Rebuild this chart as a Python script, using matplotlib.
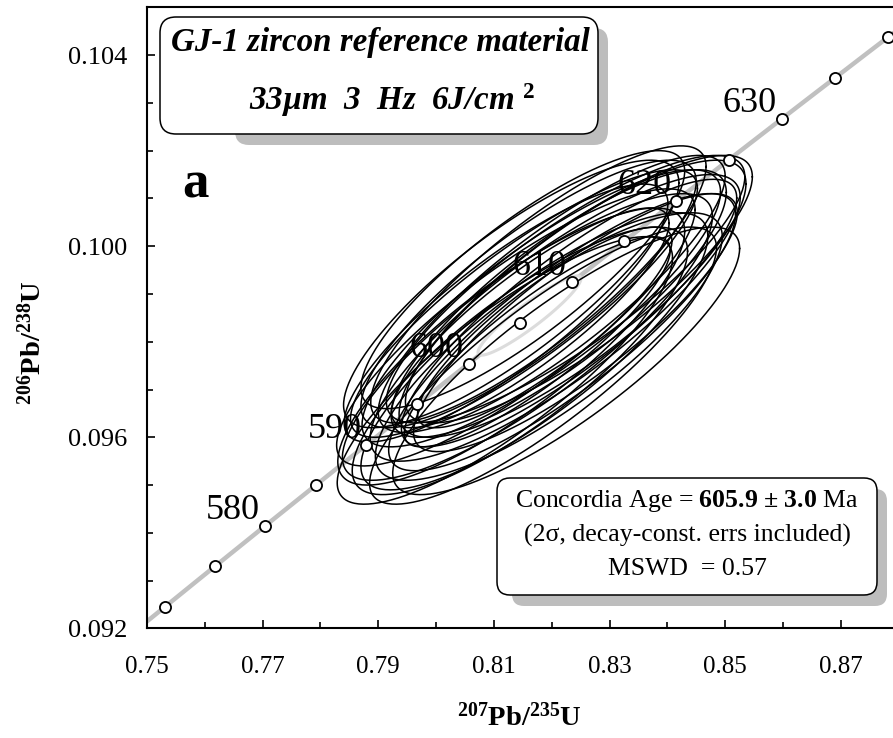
import numpy as np
import matplotlib
matplotlib.use('Agg')
import matplotlib.pyplot as plt
import matplotlib.ticker as mticker
import matplotlib.transforms as mtransforms
from matplotlib.patches import FancyBboxPatch

plt.rcParams['font.family'] = ['Liberation Serif', 'DejaVu Serif']
plt.rcParams['mathtext.fontset'] = 'custom'
plt.rcParams['mathtext.rm'] = 'Liberation Serif'
plt.rcParams['mathtext.it'] = 'Liberation Serif:italic'
plt.rcParams['mathtext.bf'] = 'Liberation Serif:bold'

# decay constants, 1/yr
L238 = 1.55125e-10
L235 = 9.8485e-10

# concordia tick marks (Ma) and the ones that get a label
tick_ages = [570, 575, 580, 585, 590, 595, 600, 605, 610, 615, 620, 625, 630, 635, 640]
label_ages = [580, 590, 600, 610, 620, 630]

# GJ-1 spot analyses: 207Pb/235U, 2s, 206Pb/238U, 2s, error correlation
pb207_u235 = [0.8119, 0.8121, 0.8130, 0.8138, 0.8145, 0.8152, 0.8158, 0.8163, 0.8170,
              0.8177, 0.8182, 0.8188, 0.8195, 0.8200, 0.8206, 0.8212, 0.8218, 0.8224,
              0.8230, 0.8236, 0.8241, 0.8247, 0.8160, 0.8185, 0.8130, 0.8150, 0.8175,
              0.8225]
err_207 = [0.029, 0.028, 0.030, 0.031, 0.029, 0.030, 0.032, 0.024, 0.030,
           0.029, 0.031, 0.022, 0.030, 0.030, 0.032, 0.029, 0.030, 0.031,
           0.029, 0.030, 0.028, 0.030, 0.029, 0.030, 0.029, 0.028, 0.023,
           0.030]
pb206_u238 = [0.0974, 0.0986, 0.0979, 0.0983, 0.0976, 0.0988, 0.0981, 0.0985, 0.0978,
              0.0992, 0.0987, 0.0983, 0.0979, 0.0990, 0.0985, 0.0988, 0.0982, 0.0991,
              0.0986, 0.0989, 0.0984, 0.0991, 0.0990, 0.0975, 0.0990, 0.0993, 0.0980,
              0.0976]
err_206 = [0.0028, 0.0027, 0.0029, 0.0029, 0.0028, 0.0028, 0.0030, 0.0023, 0.0029,
           0.0029, 0.0029, 0.0021, 0.0028, 0.0029, 0.0030, 0.0028, 0.0029, 0.0028,
           0.0028, 0.0029, 0.0027, 0.0028, 0.0028, 0.0029, 0.0028, 0.0027, 0.0022,
           0.0028]
rho = [0.84, 0.85, 0.83, 0.85, 0.82, 0.86, 0.84, 0.86, 0.83,
       0.85, 0.84, 0.86, 0.82, 0.85, 0.84, 0.83, 0.85, 0.84,
       0.86, 0.83, 0.85, 0.84, 0.84, 0.85, 0.83, 0.84, 0.87,
       0.84]

# concordia age result and its error ellipse
conc_age = 605.9
conc_err = 3.0
conc_mswd = 0.57
conc_ell = (0.0089, 0.00083, 0.93)

x_major = [0.75, 0.77, 0.79, 0.81, 0.83, 0.85, 0.87]
x_minor = [0.76, 0.78, 0.80, 0.82, 0.84, 0.86, 0.88]
y_major = [0.092, 0.096, 0.100, 0.104]
y_minor = [0.093, 0.094, 0.095, 0.097, 0.098, 0.099, 0.101, 0.102, 0.103, 0.105]


def ratios(age_ma):
    t = np.asarray(age_ma, dtype=float) * 1e6
    return np.exp(L235 * t) - 1, np.exp(L238 * t) - 1


def ellipse_xy(cx, sx, cy, sy, r, n=240):
    t = np.linspace(0, 2 * np.pi, n)
    x = cx + sx * np.cos(t)
    y = cy + sy * (r * np.cos(t) + np.sqrt(1 - r * r) * np.sin(t))
    return x, y


W, H = 893, 738
fig = plt.figure(figsize=(W / 100, H / 100), dpi=100)
ax = fig.add_axes([147 / W, (H - 628.4) / H, 751.6 / W, 621.1 / H])
ax.set_xlim(0.75, 0.88)
ax.set_ylim(0.092, 0.105)

# concordia curve
cx_line, cy_line = ratios(np.linspace(550, 660, 400))
ax.plot(cx_line, cy_line, color='#c0c0c0', lw=3.2, zorder=2, solid_capstyle='butt')

# concordia age ellipse
ax_c, ay_c = ratios(conc_age)
ex, ey = ellipse_xy(ax_c, conc_ell[0], ay_c, conc_ell[1], conc_ell[2])
ax.fill(ex, ey, facecolor='white', edgecolor='#dcdcdc', lw=2.2, zorder=2.5)

# age labels on the concordia
for age in label_ages:
    lx, ly = ratios(age)
    ax.annotate(str(age), (lx, ly), xytext=(-5, 7), textcoords='offset pixels',
                ha='right', va='baseline', fontsize=26, zorder=3)

# data-point error ellipses
for x, sx, y, sy, r in zip(pb207_u235, err_207, pb206_u238, err_206, rho):
    ex, ey = ellipse_xy(x, sx, y, sy, r)
    ax.plot(ex, ey, color='black', lw=1.1, zorder=4)

# concordia tick marks
tx, ty = ratios(tick_ages)
ax.plot(tx, ty, 'o', ms=8, mfc='white', mec='black', mew=1.3, zorder=5, clip_on=False)

# axes styling
ax.xaxis.set_major_locator(mticker.FixedLocator(x_major))
ax.xaxis.set_minor_locator(mticker.FixedLocator(x_minor))
ax.yaxis.set_major_locator(mticker.FixedLocator(y_major))
ax.yaxis.set_minor_locator(mticker.FixedLocator(y_minor))
ax.xaxis.set_major_formatter(mticker.FormatStrFormatter('%.2f'))
ax.yaxis.set_major_formatter(mticker.FormatStrFormatter('%.3f'))
ax.tick_params(which='both', direction='in', top=False, right=False, width=1.2)
ax.tick_params(which='major', length=6)
ax.tick_params(which='minor', length=4.5)
ax.tick_params(axis='x', which='major', labelsize=18, pad=20)
ax.tick_params(axis='y', which='major', labelsize=19, pad=14)
for s in ax.spines.values():
    s.set_linewidth(1.5)

ax.set_xlabel(r'$^{\mathbf{207}}$Pb/$^{\mathbf{235}}$U', fontsize=20.5, fontweight='bold')
ax.xaxis.set_label_coords(0.496, -0.12)
ax.set_ylabel(r'$^{\mathbf{206}}$Pb/$^{\mathbf{238}}$U', fontsize=20.5, fontweight='bold')
ax.yaxis.set_label_coords(-0.133, 0.46)

# boxes and texts below are laid out in pixels, measured from the top-left corner
pix = mtransforms.Affine2D().scale(1, -1).translate(0, H)


def rbox(x0, y0, x1, y1, radius, **kw):
    p = FancyBboxPatch((x0, y0), x1 - x0, y1 - y0,
                       boxstyle='round,pad=0,rounding_size=%g' % radius,
                       transform=pix, clip_on=False, **kw)
    fig.add_artist(p)


# title box with drop shadow
rbox(235, 28, 608, 145, 14, facecolor='#bdbdbd', edgecolor='none', zorder=10)
rbox(160, 17, 598, 134, 16, facecolor='white', edgecolor='black', lw=1.1, zorder=11)
fig.text(380, 42, 'GJ-1 zircon reference material', transform=pix,
         ha='center', va='center', fontsize=23.8, fontweight='bold', style='italic', zorder=12)
fig.text(392, 100, r'33µm  3  Hz  6J/cm $^{\mathbf{2}}$', transform=pix,
         ha='center', va='center', fontsize=23.8, fontweight='bold', style='italic', zorder=12)

# panel letter
fig.text(195, 185, 'a', transform=pix, ha='center', va='center',
         fontsize=38, fontweight='bold', zorder=12)

# concordia age box with drop shadow
rbox(512, 489, 887, 606, 12, facecolor='#bdbdbd', edgecolor='none', zorder=10)
rbox(497, 478, 877, 595, 13, facecolor='white', edgecolor='black', lw=1.1, zorder=11)
fig.text(687, 501,
         r'Concordia Age = $\mathbf{%.1f}$ $\mathbf{\pm}$ $\mathbf{%.1f}$ Ma' % (conc_age, conc_err),
         transform=pix, ha='center', va='center', fontsize=18.5, zorder=12)
fig.text(687, 535, '(2σ, decay-const. errs included)', transform=pix,
         ha='center', va='center', fontsize=18.5, zorder=12)
fig.text(687, 569, 'MSWD  = %.2f' % conc_mswd, transform=pix,
         ha='center', va='center', fontsize=18.5, zorder=12)

fig.savefig('out.png', dpi=100)
